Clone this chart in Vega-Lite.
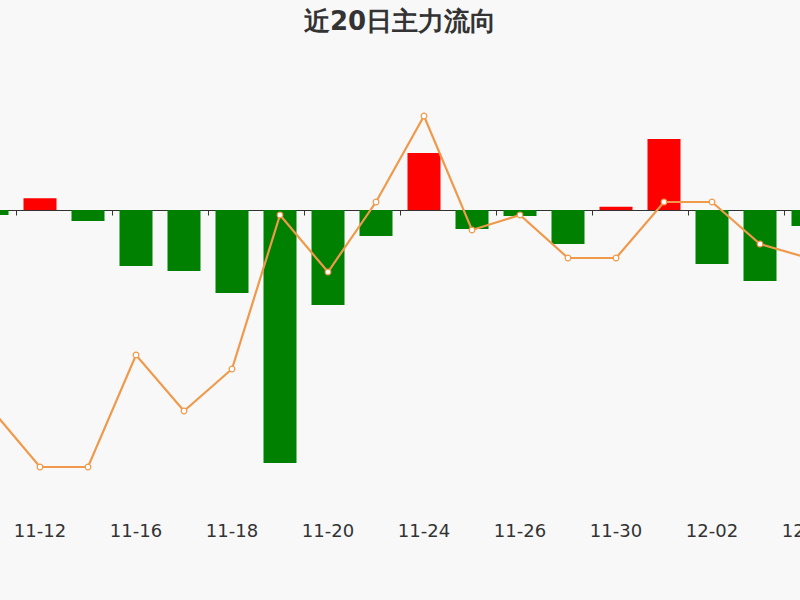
{
  "$schema": "https://vega.github.io/schema/vega-lite/v6.json",
  "autosize": {"type": "none"},
  "width": 800,
  "height": 450,
  "padding": {"top": 60, "left": 0, "right": 0, "bottom": 90},
  "background": "#f8f8f8",
  "config": {"view": {"stroke": null}},
  "title": {"text": "近20日主力流向", "anchor": "middle", "frame": "group", "fontSize": 26, "fontWeight": "bold", "font": "DejaVu Sans", "color": "#333333", "offset": 25},
  "data": {"values": [
    {"date": "11-11", "flow": -50, "price": 6.00},
    {"date": "11-12", "flow": 117, "price": 5.43},
    {"date": "11-13", "flow": -110, "price": 5.43},
    {"date": "11-16", "flow": -560, "price": 6.55},
    {"date": "11-17", "flow": -610, "price": 5.99},
    {"date": "11-18", "flow": -830, "price": 6.41},
    {"date": "11-19", "flow": -2530, "price": 7.95},
    {"date": "11-20", "flow": -950, "price": 7.38},
    {"date": "11-23", "flow": -260, "price": 8.08},
    {"date": "11-24", "flow": 570, "price": 8.94},
    {"date": "11-25", "flow": -190, "price": 7.80},
    {"date": "11-26", "flow": -60, "price": 7.95},
    {"date": "11-27", "flow": -340, "price": 7.52},
    {"date": "11-30", "flow": 33, "price": 7.52},
    {"date": "12-01", "flow": 710, "price": 8.08},
    {"date": "12-02", "flow": -540, "price": 8.08},
    {"date": "12-03", "flow": -710, "price": 7.66},
    {"date": "12-04", "flow": -160, "price": 7.52}
  ]},
  "layer": [
    {
      "mark": {"type": "bar", "clip": true},
      "encoding": {
        "x": {"field": "date", "type": "ordinal", "sort": null, "title": null,
          "scale": {"range": [-32, 832], "paddingInner": 0.3125, "paddingOuter": 0.15625},
          "axis": {"orient": "bottom", "values": ["11-12", "11-16", "11-18", "11-20", "11-24", "11-26", "11-30", "12-02", "12-04"], "domain": false, "ticks": false, "grid": false, "labelAngle": 0, "labelFontSize": 18, "labelFont": "DejaVu Sans", "labelColor": "#333333", "labelPadding": 12, "labelOverlap": false}},
        "y": {"field": "flow", "type": "quantitative", "scale": {"domain": [-3000, 1500], "nice": false, "zero": false}, "axis": null},
        "color": {"condition": {"test": "datum.flow >= 0", "value": "#ff0000"}, "value": "#008000"}
      }
    },
    {
      "mark": {"type": "line", "clip": true, "color": "#f0994a", "strokeWidth": 2.2},
      "encoding": {
        "x": {"field": "date", "type": "ordinal", "sort": null, "title": null,
          "scale": {"range": [-32, 832], "paddingInner": 0.3125, "paddingOuter": 0.15625},
          "axis": {"orient": "bottom", "values": ["11-12", "11-16", "11-18", "11-20", "11-24", "11-26", "11-30", "12-02", "12-04"], "tickOffset": -24, "labels": false, "domain": true, "domainColor": "#333333", "tickColor": "#333333", "tickSize": 5, "offset": -300, "grid": false}},
        "y": {"field": "price", "type": "quantitative", "scale": {"domain": [5, 9.5], "nice": false, "zero": false}, "axis": null}
      }
    },
    {
      "mark": {"type": "point", "clip": true, "filled": true, "fill": "#ffffff", "stroke": "#f0994a", "strokeWidth": 1.2, "size": 32, "opacity": 1},
      "encoding": {
        "x": {"field": "date", "type": "ordinal", "sort": null, "title": null,
          "scale": {"range": [-32, 832], "paddingInner": 0.3125, "paddingOuter": 0.15625},
          "axis": null},
        "y": {"field": "price", "type": "quantitative", "scale": {"domain": [5, 9.5], "nice": false, "zero": false}, "axis": null}
      }
    }
  ],
  "resolve": {"scale": {"y": "independent"}, "axis": {"x": "independent"}}
}
